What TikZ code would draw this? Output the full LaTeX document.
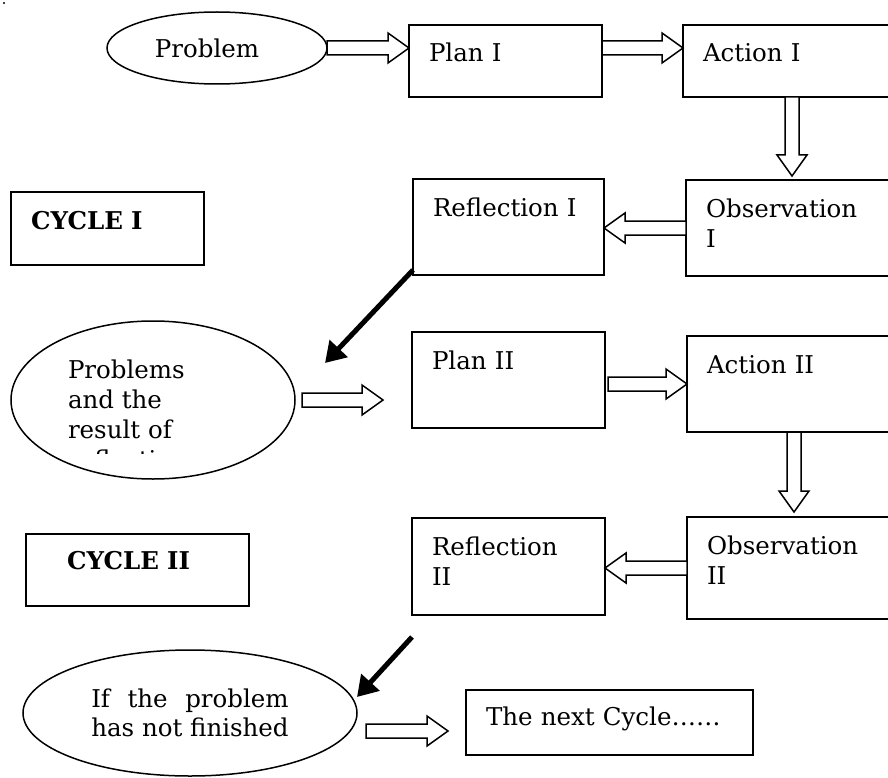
\documentclass[tikz,border=0pt]{standalone}
\usepackage{fontspec}
\setmainfont{DejaVu Serif}
\usetikzlibrary{calc,arrows.meta,shapes.geometric}
\newlength\finlen
\tikzset{
  every node/.style={font=\fontsize{24.5}{30}\selectfont, outer sep=0pt},
  box/.style={draw, line width=1.5pt, rectangle, anchor=north west, inner xsep=20pt, inner ysep=0pt, text height=37pt, align=left},
  oval/.style={draw, line width=1.5pt, ellipse, inner sep=0pt},
  blk/.style={draw, line width=1.5pt, fill=white, line join=miter},
  heavy/.style={line width=5pt, -{Triangle[length=20pt,width=24pt]}},
}
\newcommand\rarr[2]{\draw[blk] let \p1=(#1), \p2=(#2) in
  (\x1,\y1+7pt) -- (\x2-21pt,\y1+7pt) -- (\x2-21pt,\y1+15pt) -- (\x2,\y1) --
  (\x2-21pt,\y1-15pt) -- (\x2-21pt,\y1-7pt) -- (\x1,\y1-7pt) -- cycle;}
\newcommand\larr[2]{\draw[blk] let \p1=(#1), \p2=(#2) in
  (\x1,\y1+7pt) -- (\x2+21pt,\y1+7pt) -- (\x2+21pt,\y1+15pt) -- (\x2,\y1) --
  (\x2+21pt,\y1-15pt) -- (\x2+21pt,\y1-7pt) -- (\x1,\y1-7pt) -- cycle;}
\newcommand\darr[2]{\draw[blk] let \p1=(#1), \p2=(#2) in
  (\x1-7pt,\y1) -- (\x1-7pt,\y2+21pt) -- (\x1-15pt,\y2+21pt) -- (\x1,\y2) --
  (\x1+15pt,\y2+21pt) -- (\x1+7pt,\y2+21pt) -- (\x1+7pt,\y1) -- cycle;}
\begin{document}
\begin{tikzpicture}[x=1pt,y=-1pt]
\useasboundingbox (0,0) rectangle (888,778);
\clip (0,0) rectangle (888,778);
\fill (4,3) circle (1.2pt);

% ---- Cycle I ----
\node[oval, minimum width=220pt, minimum height=72pt] (problem) at (217,48) {Problem\hspace*{20pt}};
\node[box, text width=153pt, text depth=35pt] (plan1) at (409,25) {Plan~I};
\node[box, text width=180pt, text depth=35pt] (action1) at (683,25) {Action~I};
\node[box, text width=151pt, text depth=59pt] (refl1) at (413,179) {Reflection~I};
\node[box, text width=180pt, text depth=59pt] (obs1) at (686,180) {Observation\\I};
\node[box, text width=153pt, text depth=36pt, font=\fontsize{24.5}{30}\selectfont\bfseries] (cycle1) at (11,192) {CYCLE~I};

\coordinate (dx1) at (792,0);
\rarr{problem.east}{plan1.west |- problem.east}
\rarr{plan1.east |- problem.east}{action1.west |- problem.east}
\darr{action1.south -| dx1}{$(obs1.north -| dx1)+(0,-4)$}
\larr{obs1.west}{refl1.east |- obs1.west}

% ---- transition ----
\node[oval, minimum width=284pt, minimum height=158pt] (ell2) at (153,400) {};
\begin{scope}
  \clip (0,0) rectangle (888,453);
  \node[anchor=base west, align=left, inner sep=0pt] (ell2text) at (68,468) {Problems\\and the\\result of\\reflection};
\end{scope}
\coordinate (t1s) at (413,270);
\coordinate (t1e) at (325,363);
\draw[heavy] (t1s) -- (t1e);

% ---- Cycle II ----
\node[box, text width=153pt, text depth=59pt] (plan2) at (412,332) {Plan~II};
\node[box, text width=180pt, text depth=59pt] (action2) at (687,336) {Action~II};
\node[box, text width=153pt, text depth=60pt] (refl2) at (412,518) {Reflection\\II};
\node[box, text width=180pt, text depth=65pt] (obs2) at (687,517) {Observation\\II};
\node[box, text width=183pt, text height=35pt, text depth=37pt, font=\fontsize{24.5}{30}\selectfont\bfseries] (cycle2) at (26,534) {\hspace*{21pt}CYCLE~II};

\coordinate (dx2) at (794,0);
\rarr{$(ell2.east)+(7,0)$}{$(plan2.west |- ell2.east)+(-29,0)$}
\rarr{$(plan2.east |- action2.west)+(3,0)$}{action2.west}
\darr{action2.south -| dx2}{$(obs2.north -| dx2)+(0,-5)$}
\larr{obs2.west}{refl2.east |- obs2.west}

% ---- next ----
\coordinate (t2s) at (412,637);
\coordinate (t2e) at (357,697);
\draw[heavy] (t2s) -- (t2e);
\node[oval, minimum width=334pt, minimum height=126pt, align=left, font=\fontsize{24.5}{29}\selectfont] (ell3) at (190,713)
  {\settowidth{\finlen}{has not finished}\makebox[\finlen][s]{If the problem}\\has not finished};
\node[box, text width=247pt, text height=35pt, text depth=30pt] (next) at (466,690) {The next Cycle\dots\dots};
\coordinate (n3s) at (366,731);
\coordinate (n3e) at (448,731);
\rarr{n3s}{n3e}
\end{tikzpicture}
\end{document}
